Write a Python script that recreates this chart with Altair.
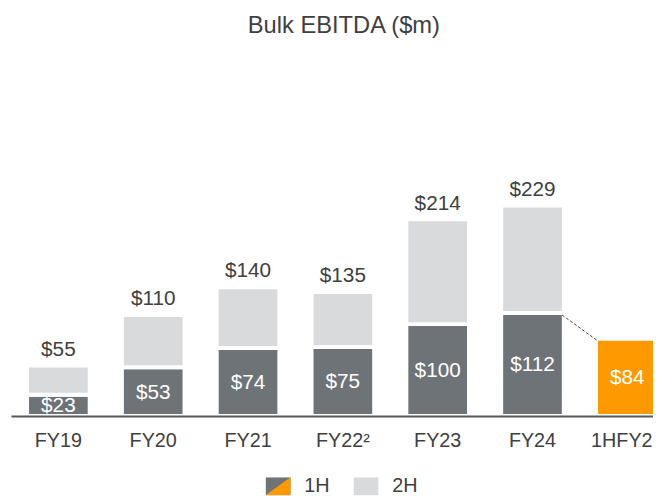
import altair as alt
import pandas as pd

# ---- data ----
periods = ["FY19", "FY20", "FY21", "FY22²", "FY23", "FY24", "1HFY25"]
first_half = [23, 53, 74, 75, 100, 112, 84]
full_year = [55, 110, 140, 135, 214, 229, None]
legend_items = ["1H", "2H"]

GRAY = "#6E7378"
LIGHT = "#D9DADB"
ORANGE = "#FF9900"
TEXT = "#404040"
FONT = "Liberation Sans"

# ---- tables built from the arrays ----
rows = []
for p, h1, fy in zip(periods, first_half, full_year):
    key = "1HFY25" if fy is None else "1H"
    rows.append({"period": p, "seg": key, "half": "1H", "lo": 0, "hi": h1})
    if fy is not None:
        rows.append({"period": p, "seg": "2H", "half": "2H", "lo": h1, "hi": fy})
bars = pd.DataFrame(rows)

inner = pd.DataFrame({
    "period": periods,
    "mid": [v / 2 for v in first_half],
    "label": [f"${v}" for v in first_half],
})
tot = pd.DataFrame({
    "period": [p for p, f in zip(periods, full_year) if f is not None],
    "total": [f for f in full_year if f is not None],
})
tot["label"] = ["$" + str(v) for v in tot["total"]]

link = pd.DataFrame({
    "from": [periods[-2]], "to": [periods[-1]],
    "v1": [first_half[-2]], "v2": [first_half[-1]],
})

seg_domain = ["1H", "2H", "1HFY25"]
xscale = alt.Scale(domain=periods, range=[0, 672], paddingInner=0, paddingOuter=0)
yscale = alt.Scale(domain=[0, 250], nice=False)

LEG_X, LEG_Y = 258, 291
common_legend = dict(
    title=None, orient="none", direction="horizontal",
    legendX=LEG_X, legendY=LEG_Y, padding=0, symbolSize=625, symbolStrokeWidth=0,
    labelFontSize=20, labelColor=TEXT, labelFont=FONT, labelOffset=14, columnPadding=24,
)

bar_layer = alt.Chart(bars).mark_bar(size=63.4, stroke="white", strokeWidth=4).encode(
    x=alt.X("period:N", scale=xscale, sort=periods,
            axis=alt.Axis(title=None, labelFontSize=20, labelColor=TEXT, labelFont=FONT,
                          ticks=False, domainColor="#595959", domainWidth=2,
                          labelPadding=15, labelAngle=0, zindex=1)),
    y=alt.Y("lo:Q", scale=yscale, axis=None),
    y2="hi:Q",
    color=alt.Color(
        "seg:N", scale=alt.Scale(domain=seg_domain, range=[GRAY, LIGHT, ORANGE]),
        legend=alt.Legend(values=legend_items, symbolType="M-1,-0.72H1V0.72H-1Z",
                          **common_legend),
    ),
    opacity=alt.Opacity(
        "half:N",
        scale=alt.Scale(domain=legend_items, range=[1, 1]),
        legend=alt.Legend(values=legend_items[:1], symbolType="M1,-0.72L1,0.72L-1,0.72Z",
                          symbolFillColor=ORANGE, symbolOpacity=1, labelOpacity=0,
                          **common_legend),
    ),
)

inner_layer = alt.Chart(inner).mark_text(fontSize=21, color="white", font=FONT, dy=1).encode(
    x=alt.X("period:N", scale=xscale, sort=periods),
    y=alt.Y("mid:Q", scale=yscale),
    text="label:N",
)

total_layer = alt.Chart(tot).mark_text(fontSize=21, color=TEXT, font=FONT, dy=-16).encode(
    x=alt.X("period:N", scale=xscale, sort=periods),
    y=alt.Y("total:Q", scale=yscale),
    text="label:N",
)

link_layer = alt.Chart(link).mark_rule(
    strokeDash=[3, 2], color=TEXT, strokeWidth=1,
    xOffset=30, x2Offset=-30, yOffset=2, y2Offset=2,
).encode(
    x=alt.X("from:N", scale=xscale, sort=periods),
    x2="to:N",
    y=alt.Y("v1:Q", scale=yscale),
    y2="v2:Q",
)

chart = alt.layer(bar_layer, link_layer, inner_layer, total_layer).properties(
    width=650,
    height=232.5,
    autosize=alt.AutoSizeParams(type="none"),
    padding={"left": 3, "top": 177.5, "right": 0, "bottom": 78},
    title=alt.Title("Bulk EBITDA ($m)", fontSize=24, fontWeight="normal", color=TEXT,
                    font=FONT, frame="group", anchor="middle", dx=12, offset=143),
).configure_view(stroke=None)

chart.save("out.html", embed_options={"renderer": "svg", "actions": False})
